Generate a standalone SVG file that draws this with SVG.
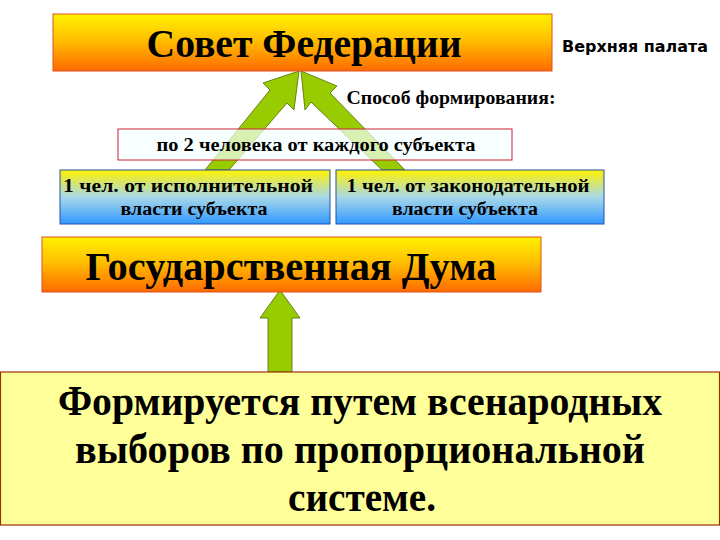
<svg xmlns="http://www.w3.org/2000/svg" width="720" height="540" viewBox="0 0 720 540">
<defs>
<linearGradient id="yo" x1="0" y1="0" x2="0" y2="1"><stop offset="0" stop-color="#FFF200"/><stop offset="0.45" stop-color="#FFC000"/><stop offset="1" stop-color="#FF6A00"/></linearGradient>
<linearGradient id="yb" x1="0" y1="0" x2="0" y2="1"><stop offset="0" stop-color="#FFF200"/><stop offset="0.5" stop-color="#A8D8E8"/><stop offset="1" stop-color="#3399FF"/></linearGradient>
<style>
.serif{font-family:"Liberation Serif","DejaVu Serif",serif;font-weight:bold;fill:#000;text-anchor:middle}
.arr{fill:#99CC00;stroke:#4D6B00;stroke-width:0.8}
</style>
</defs>
<rect width="720" height="540" fill="#fff"/>
<g id="connectors">
<polygon class="arr" points="205,170 270,90 263,83 299,71 294,110 287,103 229,170"/>
<polygon class="arr" points="405,170 330,93 337,86 301,71 305,110 311,102 382,170"/>
<polygon class="arr" points="268,372 268,318 260,318 280,290 300,318 292,318 292,372"/>
</g>
<g id="sovet">
<rect x="53" y="14" width="499" height="57" fill="url(#yo)" stroke="#E05020" stroke-width="1"/>
<text class="serif" x="304" y="57" font-size="40" textLength="315" lengthAdjust="spacingAndGlyphs">Совет Федерации</text>
</g>
<g id="verkh"><text x="635" y="52" font-family="'DejaVu Sans',sans-serif" font-weight="bold" font-size="15" text-anchor="middle" textLength="146" lengthAdjust="spacingAndGlyphs">Верхняя палата</text></g>
<g id="sposob"><text class="serif" x="451" y="104" font-size="18" textLength="209" lengthAdjust="spacingAndGlyphs">Способ формирования:</text></g>
<g id="po2">
<rect x="118" y="129" width="394" height="31" fill="#F4FFFF" fill-opacity="0.7" stroke="#CC2233" stroke-width="1"/>
<text class="serif" x="316" y="151" font-size="18" textLength="319" lengthAdjust="spacingAndGlyphs">по 2 человека от каждого субъекта</text>
</g>
<g id="isp">
<rect x="60" y="170" width="270" height="54" fill="url(#yb)" stroke="#2255AA" stroke-width="1"/>
<text class="serif" x="188" y="192" font-size="18" textLength="250" lengthAdjust="spacingAndGlyphs">1 чел. от исполнительной</text>
<text class="serif" x="194" y="215" font-size="18" textLength="147" lengthAdjust="spacingAndGlyphs">власти субъекта</text>
</g>
<g id="zak">
<rect x="336" y="170" width="268" height="54" fill="url(#yb)" stroke="#2255AA" stroke-width="1"/>
<text class="serif" x="468" y="192" font-size="18" textLength="243" lengthAdjust="spacingAndGlyphs">1 чел. от законодательной</text>
<text class="serif" x="465" y="215" font-size="18" textLength="146" lengthAdjust="spacingAndGlyphs">власти субъекта</text>
</g>
<g id="duma">
<rect x="42" y="237" width="499" height="55" fill="url(#yo)" stroke="#E05020" stroke-width="1"/>
<text class="serif" x="291" y="280" font-size="40" textLength="411" lengthAdjust="spacingAndGlyphs">Государственная Дума</text>
</g>
<g id="bottom">
<rect x="0.5" y="372" width="719" height="153" fill="#FFFF99" stroke="#993300" stroke-width="1.2"/>
<text class="serif" x="360" y="415" font-size="43" textLength="604" lengthAdjust="spacingAndGlyphs">Формируется путем всенародных</text>
<text class="serif" x="360" y="463" font-size="43" textLength="570" lengthAdjust="spacingAndGlyphs">выборов по пропорциональной</text>
<text class="serif" x="362" y="511" font-size="43" textLength="148" lengthAdjust="spacingAndGlyphs">системе.</text>
</g>
</svg>
